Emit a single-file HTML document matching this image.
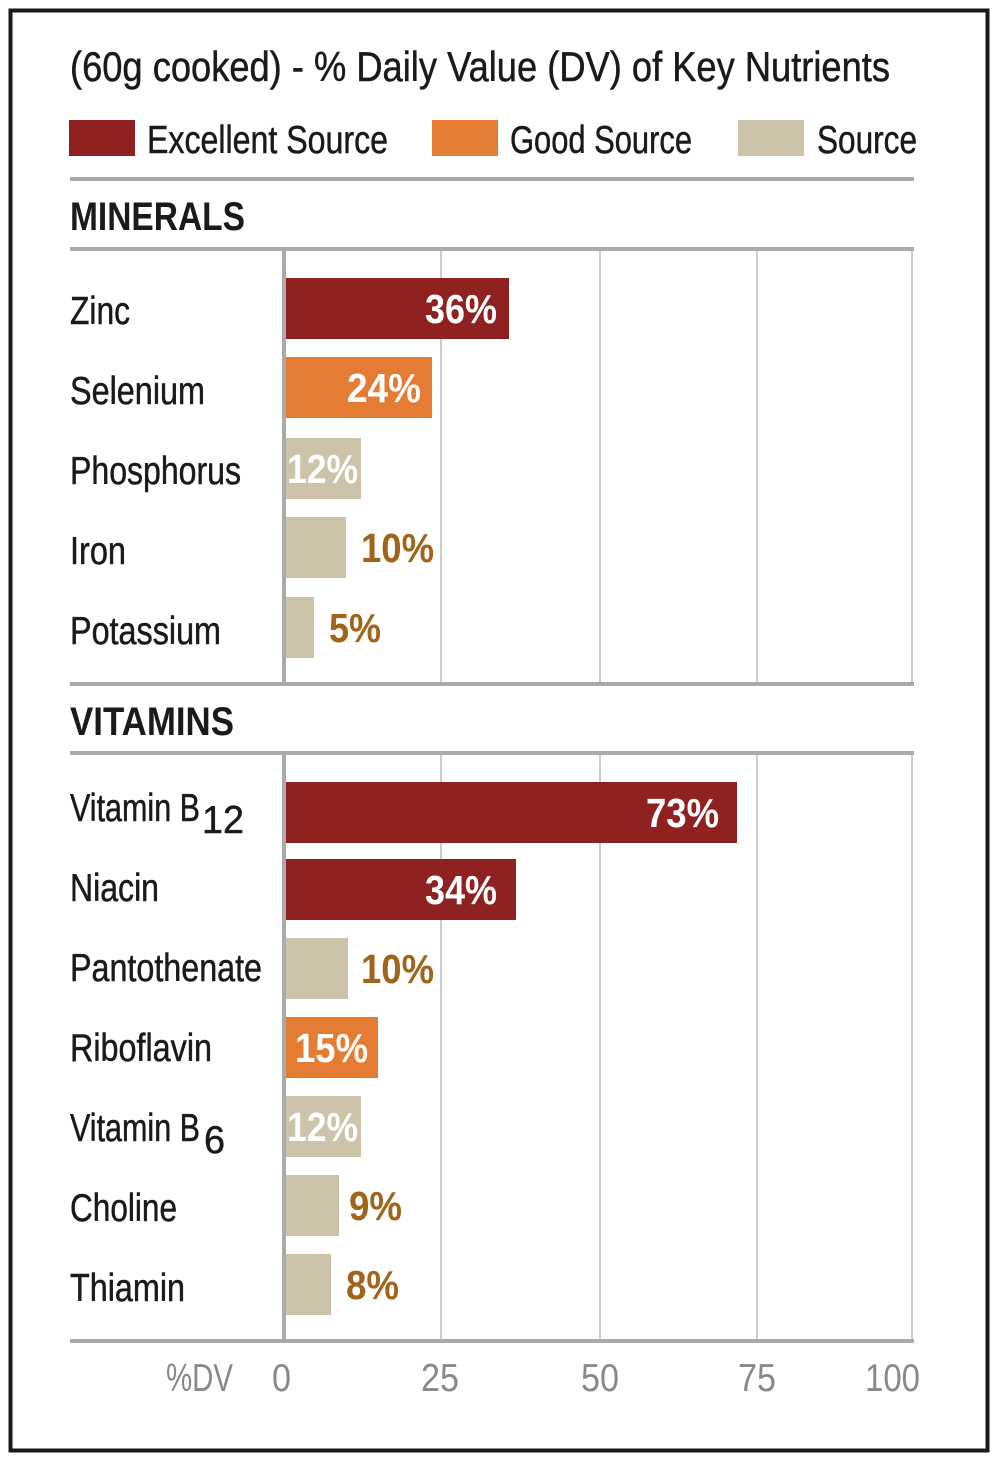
<!DOCTYPE html>
<html><head><meta charset="utf-8"><style>
html,body{margin:0;padding:0;background:#fff}
svg{display:block}
text{font-family:"Liberation Sans",sans-serif}
</style></head><body>
<svg width="1000" height="1462" viewBox="0 0 1000 1462" xmlns="http://www.w3.org/2000/svg">
<rect x="0" y="0" width="1000" height="1462" fill="#fff"/>
<rect x="10.5" y="10.5" width="977" height="1440" fill="none" stroke="#1a1a1a" stroke-width="4"/>
<g fill="#1a1a1a" font-size="42" stroke="#1a1a1a" stroke-width="0.5">
<text x="70" y="81" textLength="820" lengthAdjust="spacingAndGlyphs">(60g cooked) - % Daily Value (DV) of Key Nutrients</text>
</g>
<rect x="69" y="120" width="66" height="36" fill="#8f2220"/>
<rect x="432" y="120" width="66" height="36" fill="#e57c33"/>
<rect x="738" y="120" width="66" height="36" fill="#cdc3aa"/>
<g fill="#1a1a1a" font-size="39" stroke="#1a1a1a" stroke-width="0.5">
<text x="147" y="153" textLength="241" lengthAdjust="spacingAndGlyphs">Excellent Source</text>
<text x="510" y="153" textLength="182" lengthAdjust="spacingAndGlyphs">Good Source</text>
<text x="817" y="153" textLength="100" lengthAdjust="spacingAndGlyphs">Source</text>
</g>
<g fill="#aaa">
<rect x="70" y="177" width="844" height="4"/>
<rect x="70" y="247" width="844" height="4"/>
<rect x="70" y="682" width="844" height="4"/>
<rect x="70" y="751" width="844" height="4"/>
<rect x="70" y="1339" width="844" height="4"/>
</g>
<g fill="#1a1a1a" font-size="40" font-weight="bold">
<text x="70" y="230" textLength="175" lengthAdjust="spacingAndGlyphs">MINERALS</text>
<text x="70" y="735" textLength="164" lengthAdjust="spacingAndGlyphs">VITAMINS</text>
</g>
<g fill="#ccc">
<rect x="440" y="251" width="2" height="431"/><rect x="599" y="251" width="2" height="431"/><rect x="756" y="251" width="2" height="431"/><rect x="911" y="251" width="2" height="431"/>
<rect x="440" y="755" width="2" height="584"/><rect x="599" y="755" width="2" height="584"/><rect x="756" y="755" width="2" height="584"/><rect x="911" y="755" width="2" height="584"/>
</g>
<rect x="282" y="251" width="4" height="431" fill="#aaa"/>
<rect x="282" y="755" width="4" height="584" fill="#aaa"/>
<rect x="286" y="278" width="223" height="61" fill="#8f2220"/>
<rect x="286" y="357" width="146" height="61" fill="#e57c33"/>
<rect x="286" y="438" width="75" height="61" fill="#cdc3aa"/>
<rect x="286" y="517" width="60" height="61" fill="#cdc3aa"/>
<rect x="286" y="597" width="28" height="61" fill="#cdc3aa"/>
<rect x="286" y="782" width="451" height="61" fill="#8f2220"/>
<rect x="286" y="859" width="230" height="61" fill="#8f2220"/>
<rect x="286" y="938" width="62" height="61" fill="#cdc3aa"/>
<rect x="286" y="1017" width="92" height="61" fill="#e57c33"/>
<rect x="286" y="1096" width="75" height="61" fill="#cdc3aa"/>
<rect x="286" y="1175" width="53" height="61" fill="#cdc3aa"/>
<rect x="286" y="1254" width="45" height="61" fill="#cdc3aa"/>
<g fill="#1a1a1a" font-size="39" stroke="#1a1a1a" stroke-width="0.5">
<text x="70" y="324" textLength="60" lengthAdjust="spacingAndGlyphs">Zinc</text>
<text x="70" y="404" textLength="135" lengthAdjust="spacingAndGlyphs">Selenium</text>
<text x="70" y="484" textLength="171" lengthAdjust="spacingAndGlyphs">Phosphorus</text>
<text x="70" y="564" textLength="56" lengthAdjust="spacingAndGlyphs">Iron</text>
<text x="70" y="644" textLength="151" lengthAdjust="spacingAndGlyphs">Potassium</text>
<text x="70" y="821" textLength="130" lengthAdjust="spacingAndGlyphs">Vitamin B</text>
<text x="202" y="833" textLength="42" lengthAdjust="spacingAndGlyphs">12</text>
<text x="70" y="901" textLength="89" lengthAdjust="spacingAndGlyphs">Niacin</text>
<text x="70" y="981" textLength="192" lengthAdjust="spacingAndGlyphs">Pantothenate</text>
<text x="70" y="1061" textLength="142" lengthAdjust="spacingAndGlyphs">Riboflavin</text>
<text x="70" y="1141" textLength="130" lengthAdjust="spacingAndGlyphs">Vitamin B</text>
<text x="204" y="1153" textLength="21" lengthAdjust="spacingAndGlyphs">6</text>
<text x="70" y="1221" textLength="107" lengthAdjust="spacingAndGlyphs">Choline</text>
<text x="70" y="1301" textLength="115" lengthAdjust="spacingAndGlyphs">Thiamin</text>
</g>
<g font-size="41" font-weight="bold">
<text x="425" y="323" fill="#fff" textLength="72" lengthAdjust="spacingAndGlyphs">36%</text>
<text x="347" y="402" fill="#fff" textLength="74" lengthAdjust="spacingAndGlyphs">24%</text>
<text x="287" y="483" fill="#fff" textLength="71" lengthAdjust="spacingAndGlyphs">12%</text>
<text x="361" y="562" fill="#a0641a" textLength="73" lengthAdjust="spacingAndGlyphs">10%</text>
<text x="329" y="642" fill="#a0641a" textLength="52" lengthAdjust="spacingAndGlyphs">5%</text>
<text x="646" y="827" fill="#fff" textLength="73" lengthAdjust="spacingAndGlyphs">73%</text>
<text x="425" y="904" fill="#fff" textLength="72" lengthAdjust="spacingAndGlyphs">34%</text>
<text x="361" y="983" fill="#a0641a" textLength="73" lengthAdjust="spacingAndGlyphs">10%</text>
<text x="295" y="1062" fill="#fff" textLength="73" lengthAdjust="spacingAndGlyphs">15%</text>
<text x="287" y="1141" fill="#fff" textLength="71" lengthAdjust="spacingAndGlyphs">12%</text>
<text x="349" y="1220" fill="#a0641a" textLength="53" lengthAdjust="spacingAndGlyphs">9%</text>
<text x="346" y="1299" fill="#a0641a" textLength="53" lengthAdjust="spacingAndGlyphs">8%</text>
</g>
<g fill="#888" font-size="39">
<text x="166" y="1391" textLength="67" lengthAdjust="spacingAndGlyphs">%DV</text>
<text x="272" y="1391" textLength="19" lengthAdjust="spacingAndGlyphs">0</text>
<text x="421" y="1391" textLength="38" lengthAdjust="spacingAndGlyphs">25</text>
<text x="581" y="1391" textLength="38" lengthAdjust="spacingAndGlyphs">50</text>
<text x="738" y="1391" textLength="38" lengthAdjust="spacingAndGlyphs">75</text>
<text x="865" y="1391" textLength="55" lengthAdjust="spacingAndGlyphs">100</text>
</g>
</svg>
</body></html>
